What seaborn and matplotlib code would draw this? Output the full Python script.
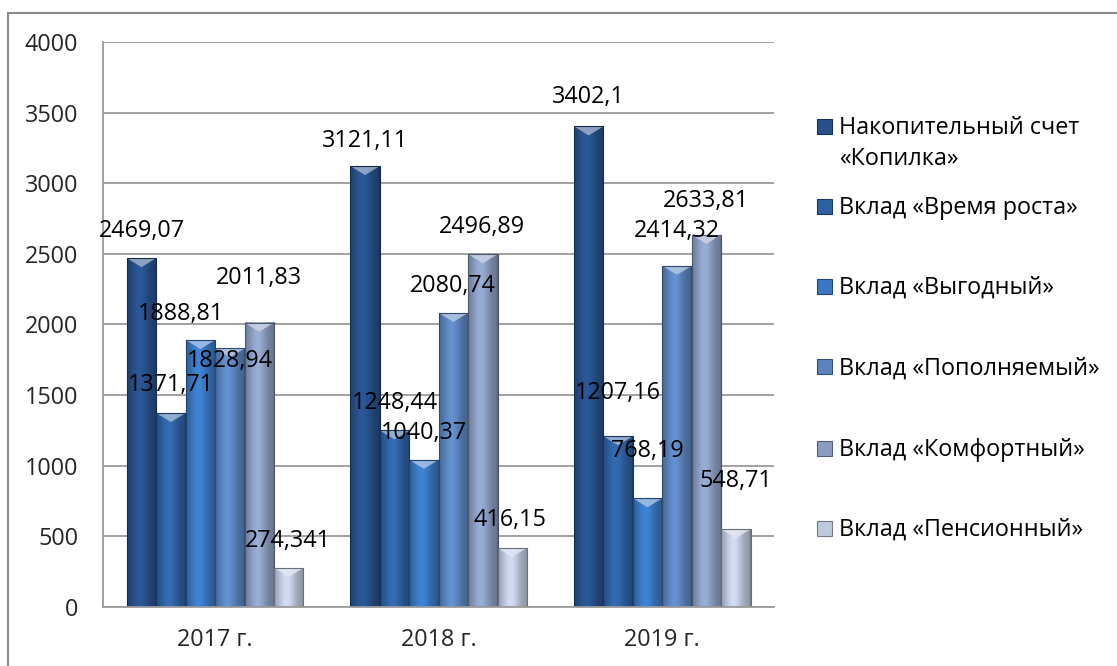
import numpy as np
import pandas as pd
import matplotlib
matplotlib.use("Agg")
import matplotlib.pyplot as plt
import matplotlib.colors as mcolors
from matplotlib.patches import Rectangle, Polygon
import seaborn as sns

# ---------------- data ----------------
years = ["2017 г.", "2018 г.", "2019 г."]
series = ["Накопительный счет\n«Копилка»", "Вклад «Время роста»", "Вклад «Выгодный»",
          "Вклад «Пополняемый»", "Вклад «Комфортный»", "Вклад «Пенсионный»"]
kopilka = [2469.07, 3121.11, 3402.1]
vremya_rosta = [1371.71, 1248.44, 1207.16]
vygodny = [1888.81, 1040.37, 768.19]
popolnyaemy = [1828.94, 2080.74, 2414.32]
komfortny = [2011.83, 2496.89, 2633.81]
pensionny = [274.341, 416.15, 548.71]
y_ticks = [0, 500, 1000, 1500, 2000, 2500, 3000, 3500, 4000]

values = [kopilka, vremya_rosta, vygodny, popolnyaemy, komfortny, pensionny]

# ---------------- styles ----------------
colors = ["#28508a", "#2e62a3", "#3a78c2", "#5b84be", "#8b9ec2", "#bfc9de"]
# label offsets in pixels (dx, dy) relative to bar-top centre, per series / per year
label_dx = [[0, 0, 0], [0, 0, 0], [-19, 0, 0], [0, 0, 0], [0, -1, 0], [-1, -2, 0]]
label_dy = [[27, 25, 29], [27.6, 27.7, 43.5], [26, 27, 47], [-12.7, 27, 35],
            [45, 27.7, 34], [26.6, 28, 48]]

sns.set_style("white")
plt.rcParams["font.family"] = ["Open Sans", "DejaVu Sans"]
FS = 16.8
GRID = "#9a9a9a"

rows = []
for s, vals in zip(series, values):
    for y, v in zip(years, vals):
        rows.append({"year": y, "series": s, "value": v})
df = pd.DataFrame(rows)

W, H = 1117, 666
fig = plt.figure(figsize=(W / 100, H / 100), dpi=100)
ax = fig.add_axes([103.3 / W, 1 - 606.7 / H, (774 - 103.3) / W, (606.7 - 42) / H])

sns.barplot(data=df, x="year", y="value", hue="series", order=years, hue_order=series,
            palette=colors, saturation=1, width=0.79, legend=False, ax=ax,
            edgecolor="none", linewidth=0, zorder=2)

ax.set_xlim(-0.5, 2.5)
ax.set_ylim(0, 4000)
ax.set_yticks(y_ticks)
ax.set_yticklabels([str(t) for t in y_ticks], fontsize=FS)
ax.set_xticks([-0.5, 0.5, 1.5, 2.5])
ax.set_xticklabels([])
ax.set_xticks([0, 1, 2], minor=True)
ax.set_xticklabels(years, minor=True, fontsize=FS)
ax.tick_params(axis="x", which="minor", length=0, pad=15)
ax.tick_params(axis="x", which="major", length=7, width=1.3, color=GRID, direction="out")
ax.tick_params(axis="y", length=7, width=1.3, color=GRID, direction="out", pad=11)
ax.set_xlabel("")
ax.set_ylabel("")
ax.set_axisbelow(True)
ax.yaxis.grid(True, color=GRID, linewidth=1.3)
ax.xaxis.grid(False)
for side in ["top", "right"]:
    ax.spines[side].set_visible(False)
for side in ["left", "bottom"]:
    ax.spines[side].set_color(GRID)
    ax.spines[side].set_linewidth(1.3)

fig.canvas.draw()
inv = ax.transData.inverted()
bevel_d = abs(inv.transform((0, 0))[1] - inv.transform((0, 9))[1])

t = np.linspace(0, 1, 80)
prof = 0.74 + 0.36 * np.exp(-((t - 0.42) / 0.32) ** 2)
prof[-3:] *= 0.8

for i, cont in enumerate(ax.containers):
    base = np.array(mcolors.to_rgb(colors[i]))
    grad = np.clip(base[None, :] * prof[:, None], 0, 1)
    light = base + (1 - base) * 0.55
    for j, bar in enumerate(cont):
        x0, w, h = bar.get_x(), bar.get_width(), bar.get_height()
        ax.imshow(grad[None, :, :], extent=(x0, x0 + w, 0, h), aspect="auto",
                  interpolation="bilinear", zorder=2.1)
        ax.add_patch(Polygon([(x0, h), (x0 + w, h), (x0 + w / 2, h - bevel_d)],
                             closed=True, facecolor=light, edgecolor="none",
                             alpha=0.85, zorder=2.2))
        ax.add_patch(Rectangle((x0, 0), w, h, fill=False,
                               edgecolor=base * 0.55, linewidth=0.8, zorder=2.3))
        lbl = str(values[i][j]).replace(".", ",")
        ax.annotate(lbl, xy=(x0 + w / 2, h), xytext=(label_dx[i][j], label_dy[i][j]),
                    textcoords="offset pixels", ha="center", va="center",
                    fontsize=FS, color="black", zorder=5)

ax.set_xlim(-0.5, 2.5)
ax.set_ylim(0, 4000)

# legend drawn in figure pixels
centers = [126, 206, 286, 367, 448, 528]
for i, (name, cy) in enumerate(zip(series, centers)):
    base = np.array(mcolors.to_rgb(colors[i]))
    fig.patches.append(Rectangle((817 / W, 1 - (cy + 7.5) / H), 15 / W, 15 / H,
                                 transform=fig.transFigure, facecolor=colors[i],
                                 edgecolor=base * 0.6, linewidth=0.8))
    for k, line in enumerate(name.split("\n")):
        fig.text(839 / W, 1 - (cy + 8 + 31 * k) / H, line, ha="left", va="baseline",
                 fontsize=FS, color="black")

# outer chart border
fig.patches.append(Rectangle((8 / W, -0.05), 1.2, 1.05 - 13 / H, transform=fig.transFigure,
                             fill=False, edgecolor="#8a8a8a", linewidth=1.5))

fig.savefig("out.png", dpi=100)
